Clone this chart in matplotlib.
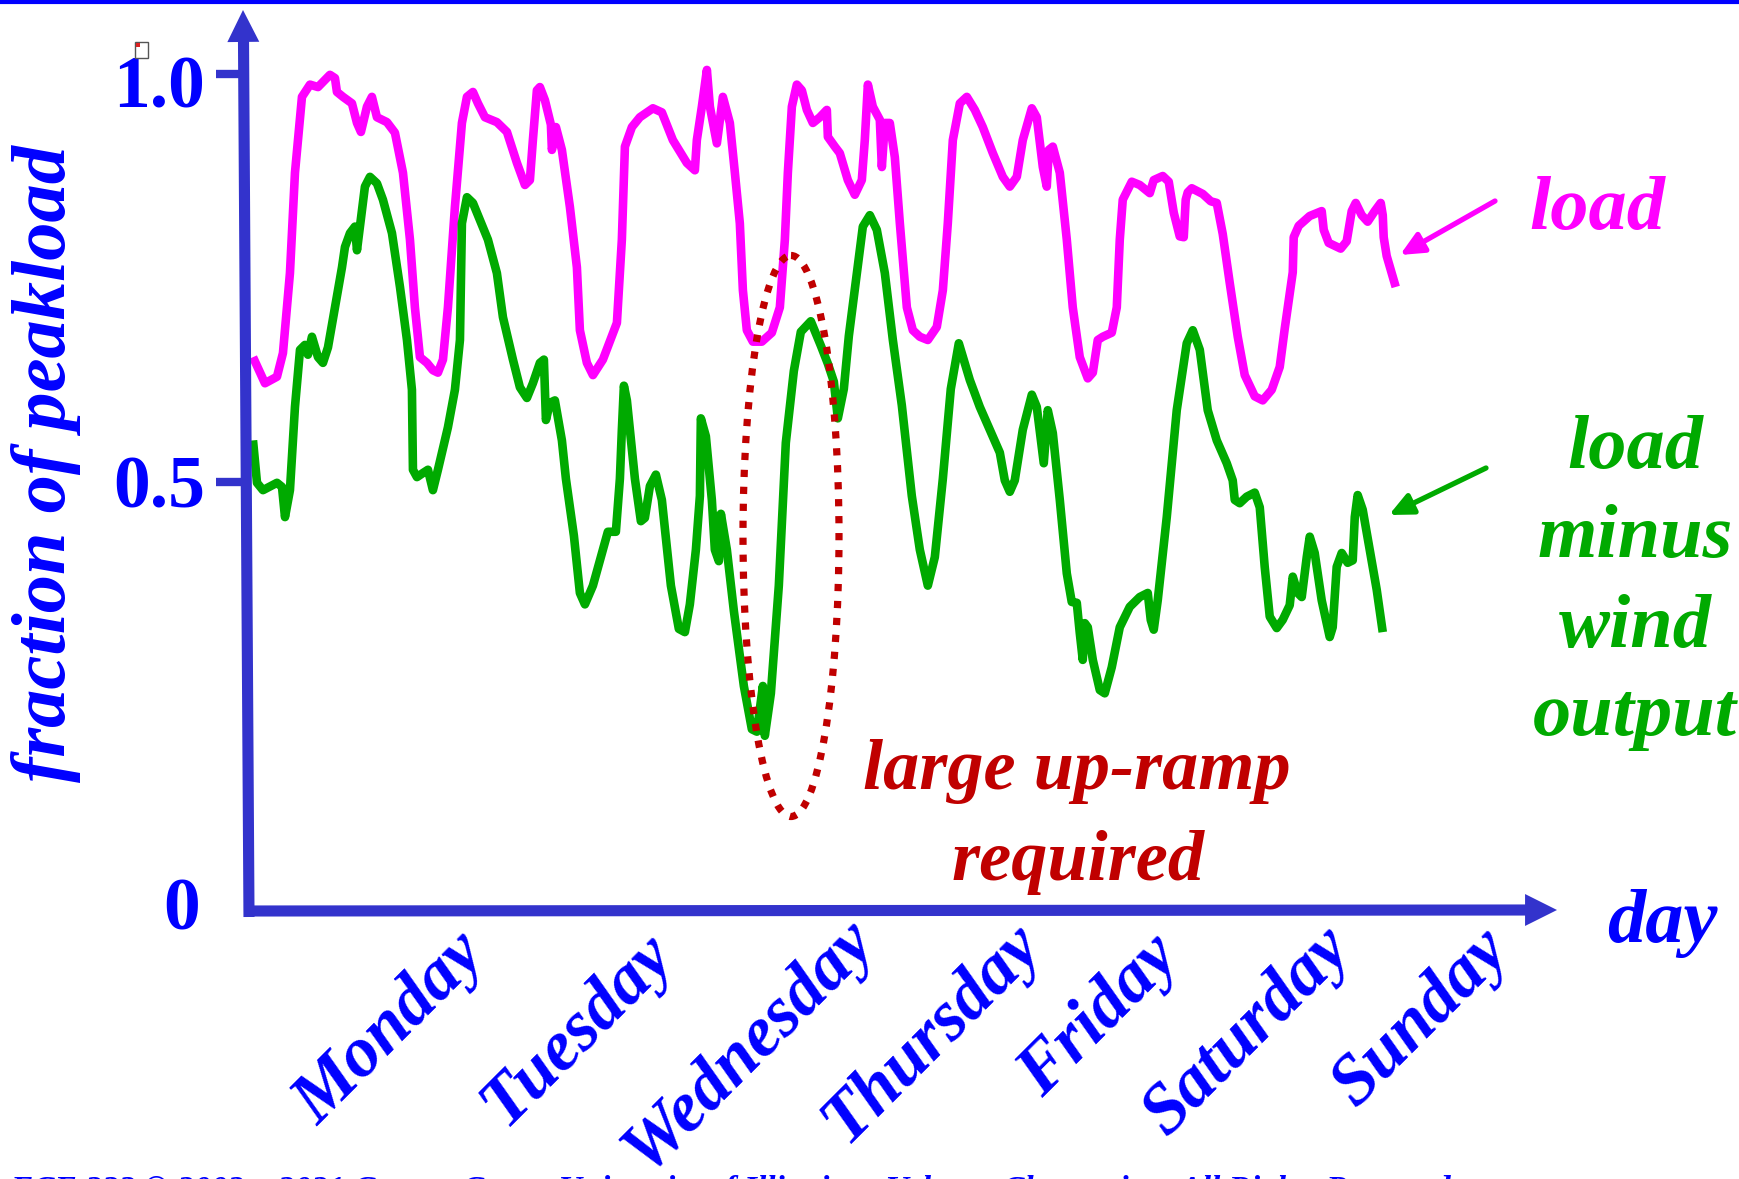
import matplotlib
matplotlib.use("Agg")
import matplotlib.pyplot as plt
from matplotlib.transforms import Affine2D
from matplotlib.patches import Ellipse, Rectangle, FancyArrowPatch, ArrowStyle
from matplotlib.lines import Line2D

# ---------------- data (hours from Monday 00:00, fraction of peak load) ----------------
load_hours = [
    0.15, 1.91, 3.68, 4.56, 5.59, 6.33, 7.36, 8.54, 9.72, 11.48,
    12.22, 12.51, 13.40, 14.72, 15.46, 16.04, 16.93, 17.66, 18.40, 19.87,
    21.05, 22.23, 23.26, 23.99, 24.73, 25.76, 26.64, 27.38, 28.12, 28.85,
    29.88, 30.91, 31.65, 32.53, 33.27, 34.30, 36.06, 37.54, 39.01, 40.19,
    40.92, 41.36, 41.95, 42.39, 43.13, 44.01, 44.16, 44.75, 45.63, 46.81,
    47.84, 48.28, 49.31, 50.20, 51.67, 53.73, 54.46, 54.91, 55.94, 57.11,
    59.03, 60.35, 61.97, 64.03, 65.21, 65.50, 66.24, 66.98, 67.42, 68.45,
    69.33, 70.36, 71.10, 71.83, 72.28, 72.86, 73.75, 75.07, 76.54, 77.72,
    78.46, 78.90, 79.49, 80.22, 80.96, 81.70, 82.58, 83.61, 84.64, 84.79,
    85.82, 86.55, 87.73, 88.76, 89.79, 90.23, 90.68, 91.41, 92.44, 92.74,
    93.18, 93.91, 94.65, 95.39, 96.42, 97.30, 98.33, 99.51, 100.83, 101.72,
    102.45, 103.19, 104.22, 105.25, 106.43, 107.60, 109.08, 110.55, 111.58, 112.61,
    113.49, 114.82, 115.55, 116.44, 117.02, 117.32, 117.91, 118.94, 119.97, 120.85,
    121.88, 123.06, 123.80, 124.53, 125.27, 126.59, 127.33, 127.77, 128.21, 129.54,
    130.71, 132.19, 132.77, 134.10, 134.98, 135.72, 136.60, 137.19, 137.48, 137.78,
    138.37, 139.99, 141.17, 142.05, 142.93, 143.96, 145.14, 146.17, 147.64, 148.82,
    150.14, 151.32, 152.06, 153.24, 153.38, 154.12, 155.74, 157.50, 157.80, 158.53,
    160.30, 161.18, 161.92, 162.51, 163.39, 164.27, 165.31, 166.19, 166.49, 166.63,
    167.07, 168.40,
]
load_frac = [
    0.653, 0.621, 0.629, 0.658, 0.756, 0.879, 0.972, 0.987, 0.984, 0.999,
    0.995, 0.978, 0.972, 0.964, 0.940, 0.929, 0.960, 0.972, 0.947, 0.941,
    0.928, 0.879, 0.797, 0.714, 0.653, 0.646, 0.637, 0.634, 0.650, 0.714,
    0.837, 0.940, 0.972, 0.978, 0.964, 0.947, 0.941, 0.929, 0.891, 0.864,
    0.870, 0.919, 0.980, 0.984, 0.968, 0.938, 0.907, 0.935, 0.907, 0.837,
    0.763, 0.686, 0.646, 0.631, 0.650, 0.695, 0.797, 0.911, 0.935, 0.947,
    0.958, 0.953, 0.919, 0.891, 0.882, 0.919, 0.960, 1.005, 0.960, 0.915,
    0.972, 0.940, 0.879, 0.817, 0.735, 0.686, 0.672, 0.672, 0.683, 0.714,
    0.797, 0.879, 0.960, 0.987, 0.980, 0.956, 0.940, 0.947, 0.956, 0.923,
    0.911, 0.903, 0.870, 0.852, 0.870, 0.919, 0.987, 0.960, 0.944, 0.886,
    0.940, 0.940, 0.898, 0.817, 0.714, 0.686, 0.678, 0.674, 0.690, 0.735,
    0.817, 0.919, 0.964, 0.972, 0.956, 0.935, 0.903, 0.874, 0.862, 0.874,
    0.919, 0.958, 0.947, 0.886, 0.862, 0.907, 0.911, 0.879, 0.797, 0.714,
    0.653, 0.627, 0.634, 0.674, 0.678, 0.683, 0.714, 0.797, 0.846, 0.868,
    0.864, 0.854, 0.870, 0.875, 0.868, 0.830, 0.801, 0.800, 0.846, 0.855,
    0.860, 0.853, 0.844, 0.842, 0.804, 0.744, 0.678, 0.631, 0.605, 0.600,
    0.613, 0.641, 0.688, 0.757, 0.800, 0.814, 0.826, 0.832, 0.809, 0.793,
    0.786, 0.795, 0.832, 0.842, 0.827, 0.819, 0.832, 0.842, 0.827, 0.800,
    0.777, 0.739,
]

net_hours = [
    0.15, 0.74, 1.62, 3.68, 4.42, 4.86, 5.59, 6.33, 7.07, 7.80,
    8.24, 8.83, 9.72, 10.45, 11.19, 12.22, 13.25, 13.69, 14.43, 15.16,
    15.46, 15.90, 16.63, 17.37, 18.40, 19.28, 20.61, 21.79, 22.82, 23.55,
    23.70, 24.29, 25.17, 25.91, 26.64, 27.38, 28.85, 29.88, 30.62, 30.91,
    31.65, 32.53, 33.56, 34.74, 36.06, 36.95, 38.42, 39.45, 40.48, 41.36,
    42.39, 42.98, 43.28, 43.87, 44.60, 45.63, 46.22, 47.40, 48.28, 49.02,
    50.20, 51.37, 52.40, 53.58, 54.17, 54.46, 54.76, 55.20, 56.38, 57.26,
    57.85, 58.59, 59.47, 60.35, 61.68, 62.85, 63.74, 64.47, 65.36, 65.95,
    66.09, 66.83, 67.71, 68.15, 68.74, 69.04, 69.92, 70.95, 72.42, 73.60,
    74.34, 75.22, 75.51, 76.40, 77.57, 78.60, 79.78, 80.81, 82.28, 83.76,
    84.79, 85.67, 86.26, 87.14, 87.88, 89.06, 89.94, 90.97, 92.00, 93.18,
    94.36, 95.68, 97.15, 98.33, 99.51, 100.54, 101.72, 102.89, 104.07, 105.69,
    107.16, 108.63, 110.11, 110.84, 111.58, 112.31, 113.49, 114.82, 115.55, 116.58,
    117.17, 117.91, 118.94, 119.97, 120.70, 121.44, 121.88, 122.32, 122.62, 123.06,
    123.80, 124.83, 125.56, 126.59, 127.77, 129.24, 130.71, 131.89, 132.33, 132.77,
    133.36, 134.69, 136.16, 137.63, 138.52, 139.55, 140.72, 142.05, 143.52, 144.40,
    144.70, 145.43, 146.46, 147.64, 148.38, 149.11, 149.85, 150.88, 151.76, 152.79,
    153.24, 153.97, 154.56, 155.30, 155.74, 156.47, 157.50, 158.68, 159.12, 159.71,
    160.45, 161.33, 162.07, 162.37, 162.80, 163.54, 164.57, 165.60, 166.49,
]
net_frac = [
    0.551, 0.499, 0.490, 0.499, 0.494, 0.457, 0.490, 0.592, 0.662, 0.668,
    0.656, 0.678, 0.653, 0.646, 0.665, 0.714, 0.763, 0.788, 0.805, 0.813,
    0.784, 0.813, 0.862, 0.874, 0.866, 0.846, 0.805, 0.739, 0.674, 0.613,
    0.515, 0.506, 0.511, 0.515, 0.490, 0.515, 0.567, 0.613, 0.674, 0.817,
    0.849, 0.842, 0.821, 0.797, 0.756, 0.702, 0.650, 0.616, 0.603, 0.621,
    0.646, 0.650, 0.576, 0.597, 0.600, 0.551, 0.504, 0.434, 0.364, 0.350,
    0.373, 0.408, 0.439, 0.439, 0.504, 0.564, 0.618, 0.600, 0.504, 0.452,
    0.456, 0.495, 0.509, 0.478, 0.373, 0.320, 0.316, 0.350, 0.417, 0.483,
    0.578, 0.556, 0.478, 0.417, 0.403, 0.461, 0.417, 0.342, 0.250, 0.197,
    0.194, 0.250, 0.189, 0.241, 0.373, 0.548, 0.636, 0.684, 0.697, 0.667,
    0.645, 0.623, 0.578, 0.614, 0.679, 0.756, 0.813, 0.827, 0.809, 0.756,
    0.674, 0.594, 0.483, 0.417, 0.373, 0.408, 0.504, 0.614, 0.670, 0.625,
    0.592, 0.564, 0.536, 0.502, 0.488, 0.502, 0.564, 0.607, 0.592, 0.523,
    0.588, 0.560, 0.478, 0.388, 0.353, 0.352, 0.315, 0.282, 0.327, 0.322,
    0.282, 0.245, 0.241, 0.273, 0.322, 0.347, 0.359, 0.364, 0.331, 0.319,
    0.355, 0.457, 0.588, 0.670, 0.686, 0.662, 0.588, 0.551, 0.523, 0.502,
    0.478, 0.474, 0.482, 0.487, 0.469, 0.396, 0.335, 0.321, 0.331, 0.349,
    0.384, 0.364, 0.359, 0.408, 0.433, 0.413, 0.355, 0.310, 0.322, 0.396,
    0.413, 0.401, 0.404, 0.457, 0.484, 0.466, 0.417, 0.368, 0.316,
]

day_labels = ["Monday", "Tuesday", "Wednesday", "Thursday", "Friday", "Saturday", "Sunday"]
ytick_labels = ["1.0", "0.5", "0"]
ytick_values = [1.0, 0.5]

# ---------------- styling ----------------
BLUE = "#0000FF"
AXC = "#3333CC"
MAG = "#FF00FF"
GREEN = "#00AA00"
RED = "#C00000"
SERIF = "Liberation Serif"

W, H = 1740, 1179
fig = plt.figure(figsize=(W / 100, H / 100), dpi=100)
fig.patch.set_facecolor("white")
# reference-pixel transform (origin top-left) for decorations and text
PX = Affine2D().scale(1.0 / W, -1.0 / H).translate(0, 1) + fig.transFigure

ax = fig.add_axes([0, 0, 1, 1])
ax.set_xlim(-37.10, 219.09)
ax.set_ylim(-0.3542, 1.0907)
ax.axis("off")

# data curves
ax.plot(load_hours, load_frac, color=MAG, lw=6.2, solid_joinstyle="round",
        solid_capstyle="butt", zorder=3)
ax.plot(net_hours, net_frac, color=GREEN, lw=6.2, solid_joinstyle="round",
        solid_capstyle="butt", zorder=3)

# top border line
fig.add_artist(Line2D([0, W], [2, 2], transform=PX, color=BLUE, lw=3.0))

# axes with arrows
fig.add_artist(Line2D([249, 243.5], [917, 40], transform=PX, color=AXC, lw=8.0,
                      solid_capstyle="butt", zorder=4))
fig.add_artist(Line2D([244, 1526], [911, 910], transform=PX, color=AXC, lw=8.0,
                      solid_capstyle="butt", zorder=4))
head = ArrowStyle("-|>", head_length=23, head_width=11.5)
fig.add_artist(FancyArrowPatch(posA=(243.5, 60), posB=(243, 10), transform=PX,
                               arrowstyle=head, mutation_scale=1, lw=0, color=AXC,
                               shrinkA=0, shrinkB=0, zorder=4))
fig.add_artist(FancyArrowPatch(posA=(1500, 910), posB=(1557, 910), transform=PX,
                               arrowstyle=head, mutation_scale=1, lw=0, color=AXC,
                               shrinkA=0, shrinkB=0, zorder=4))

# y ticks (data y values, stub length in data x)
for v in ytick_values:
    ax.plot([-5.30, -0.74], [v, v], color=AXC, lw=6.0, solid_capstyle="butt", zorder=4)

# y tick labels
tick_pos = [(205, 107), (205, 508), (200, 929)]
for lab, (x, y) in zip(ytick_labels, tick_pos):
    fig.text(x, y, lab, transform=PX, ha="right", va="baseline", color=BLUE,
             fontsize=53, fontweight="bold", family=SERIF)

# little document icon near the top tick label
fig.add_artist(Rectangle((135, 42), 13, 16, transform=PX, fc="white", ec="#555555",
                         lw=1.0, zorder=6))
fig.add_artist(Rectangle((136, 43), 4, 4, transform=PX, fc="#DD2222", ec="none", zorder=7))

# y axis title
fig.text(46, 463, "fraction of peakload", transform=PX, rotation=90, ha="center",
         va="center", color=BLUE, fontsize=55, fontweight="bold", fontstyle="italic",
         family=SERIF)

# day labels
day_pos = [(391, 1029), (578, 1030), (749, 1046), (933, 1033), (1100, 1016),
           (1248, 1032), (1422, 1018)]
for lab, (x, y) in zip(day_labels, day_pos):
    fig.text(x, y, lab, transform=PX, rotation=45, ha="center", va="center",
             color=BLUE, fontsize=51, fontweight="bold", fontstyle="italic", family=SERIF)

fig.text(1662, 942, "day", transform=PX, ha="center", va="baseline", color=BLUE,
         fontsize=55, fontweight="bold", fontstyle="italic", family=SERIF)

# series labels
fig.text(1597, 229, "load", transform=PX, ha="center", va="baseline", color=MAG,
         fontsize=55, fontweight="bold", fontstyle="italic", family=SERIF)
for lab, y in zip(["load", "minus", "wind", "output"], [468, 557, 647, 735]):
    fig.text(1635, y, lab, transform=PX, ha="center", va="baseline", color=GREEN,
             fontsize=55, fontweight="bold", fontstyle="italic", family=SERIF)

# pointer arrows
ptr = ArrowStyle("-|>", head_length=14, head_width=6.5)
fig.add_artist(FancyArrowPatch(posA=(1495, 201), posB=(1400, 255), transform=PX,
                               arrowstyle=ptr, mutation_scale=1, lw=3.8, color=MAG,
                               shrinkA=0, shrinkB=0))
fig.add_artist(FancyArrowPatch(posA=(1486, 468), posB=(1389, 515), transform=PX,
                               arrowstyle=ptr, mutation_scale=1, lw=3.8, color=GREEN,
                               shrinkA=0, shrinkB=0))

# ramp annotation
fig.add_artist(Ellipse((791, 536), 96, 561, transform=PX, fill=False, ec=RED, lw=5.2,
                       linestyle=(0, (1, 1.35)), capstyle="butt", zorder=8))
fig.text(1077, 789, "large up-ramp", transform=PX, ha="center", va="baseline",
         color=RED, fontsize=52, fontweight="bold", fontstyle="italic", family=SERIF)
fig.text(1078, 880, "required", transform=PX, ha="center", va="baseline",
         color=RED, fontsize=52, fontweight="bold", fontstyle="italic", family=SERIF)

# footer (mostly cut off at the bottom edge, as in the original slide)
fig.text(10, 1199, "ECE 333 \u00a9 2002 \u2013 2021 George Gross, University of Illinois at "
         "Urbana-Champaign, All Rights Reserved", transform=PX, ha="left",
         va="baseline", color=BLUE, fontsize=24, fontweight="bold", fontstyle="italic",
         family=SERIF)

fig.savefig("out.png", dpi=100, facecolor="white")
